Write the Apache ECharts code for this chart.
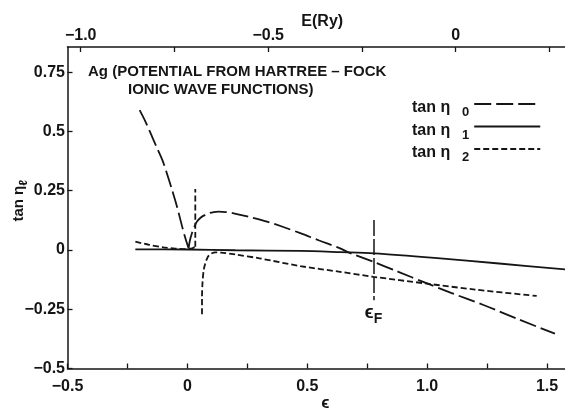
<!DOCTYPE html>
<html>
<head>
<meta charset="utf-8">
<script src="https://cdn.jsdelivr.net/npm/echarts@6/dist/echarts.min.js"></script>
<style>
  html, body { margin: 0; padding: 0; background: #fff; }
  #chart { width: 565px; height: 409px; }
</style>
</head>
<body>
<div id="chart"></div>
<script>
// Tangents of the Ag phase shifts (Hartree-Fock ionic potential) versus energy.

// Axis ticks and labels
const epsTicks = [-0.5, -0.25, 0, 0.25, 0.5, 0.75, 1, 1.25, 1.5];
const epsLabels = [-0.5, 0, 0.5, 1, 1.5];
const ryTicks = [-1, -0.75, -0.5, -0.25, 0, 0.25];
const ryLabels = [-1, -0.5, 0];
const tanTicks = [-0.5, -0.25, 0, 0.25, 0.5, 0.75];

// Axis extents: epsilon (bottom), E in Ry (top), tan eta (left)
const epsRange = [-0.5, 1.575];
const ryRange = [-1.0352, 0.2915];
const tanRange = [-0.5, 0.8565];

// tan eta_0: falling branch down to the cusp, then the rising/decaying branch
const tanEta0Left = [
  [-0.199, 0.590], [-0.175, 0.542], [-0.154, 0.494], [-0.13, 0.438], [-0.105, 0.381],
  [-0.085, 0.322], [-0.064, 0.254], [-0.045, 0.189], [-0.029, 0.127], [-0.012, 0.062],
  [0.005, 0.007]
];
const tanEta0Right = [
  [0.005, 0.007], [0.011, 0.042], [0.019, 0.071], [0.03, 0.100], [0.040, 0.120],
  [0.055, 0.136], [0.068, 0.145], [0.09, 0.155], [0.11, 0.160], [0.13, 0.162],
  [0.16, 0.160], [0.193, 0.155], [0.25, 0.142], [0.332, 0.120], [0.40, 0.097],
  [0.471, 0.071], [0.55, 0.040], [0.637, 0.007], [0.672, -0.010], [0.776, -0.050],
  [0.88, -0.092], [0.992, -0.138], [1.1, -0.181], [1.235, -0.232], [1.38, -0.292],
  [1.533, -0.353]
];

// tan eta_1: nearly flat, slowly turning negative
const tanEta1 = [
  [-0.217, 0.003], [0, 0.002], [0.2, -0.001], [0.47, -0.004], [0.637, -0.009],
  [0.78, -0.014], [1.03, -0.033], [1.3, -0.057], [1.575, -0.082]
];

// tan eta_2: below the d resonance, the resonance itself, and above it
const tanEta2Below = [
  [-0.217, 0.035], [-0.16, 0.022], [-0.099, 0.011], [-0.05, 0.006], [-0.008, 0.004],
  [0.02, 0.007], [0.033, 0.014]
];
const tanEta2Pole = [[0.033, 0.014], [0.033, 0.257]];
const tanEta2Above = [
  [0.061, -0.271], [0.061, -0.2], [0.063, -0.14], [0.068, -0.085], [0.075, -0.055],
  [0.082, -0.036], [0.089, -0.024], [0.1, -0.015], [0.117, -0.010], [0.14, -0.011],
  [0.2, -0.019], [0.3, -0.035], [0.471, -0.068], [0.637, -0.092], [0.776, -0.113],
  [0.992, -0.141], [1.2, -0.167], [1.457, -0.194]
];

// Fermi level marker
const fermiEps = 0.776;
const fermiSpan = [0.127, -0.212];

const GAP = ['-', '-'];
const FONT = "'Liberation Sans', Arial, 'DejaVu Sans', sans-serif";
const INK = '#151515';

function tickText(v) {
  if (v === 0) return '0';
  let s = Number.isInteger(v) ? v.toFixed(1) : String(v);
  return s.replace('-', '\u2212');
}

const labelStyle = { fontFamily: FONT, fontWeight: 'bold', fontSize: 16, color: INK };

const chart = echarts.init(document.getElementById('chart'), null, { renderer: 'canvas' });

chart.setOption({
  animation: false,
  backgroundColor: '#fff',
  grid: { left: 67.5, right: 0, top: 47, bottom: 40.5, outerBoundsMode: 'none' },
  legend: {
    orient: 'vertical',
    left: 412,
    top: 96,
    padding: 0,
    align: 'right',
    itemWidth: 66,
    itemHeight: 12,
    itemGap: -0.5,
    selectedMode: false,
    data: ['tan η0', 'tan η1', 'tan η2'],
    itemStyle: { color: 'rgba(0,0,0,0)', borderWidth: 0, opacity: 0 },
    formatter: name => '{t|tan η}{s|' + name.slice(-1) + '}',
    textStyle: {
      fontFamily: FONT, fontWeight: 'bold', color: INK,
      rich: {
        t: { fontFamily: FONT, fontWeight: 'bold', fontSize: 16, lineHeight: 16, padding: [4, 0, 0, 0], verticalAlign: 'top' },
        s: { fontFamily: FONT, fontWeight: 'bold', fontSize: 13, lineHeight: 12, padding: [10, 0, 0, 1], verticalAlign: 'top', width: 18 }
      }
    }
  },
  xAxis: [
    {
      type: 'value', position: 'bottom',
      min: epsRange[0], max: epsRange[1],
      name: 'ϵ', nameLocation: 'middle', nameGap: 26, nameMoveOverlap: false,
      nameTextStyle: { fontFamily: FONT, fontWeight: 'bold', fontSize: 17, color: INK, padding: [0, 0, 0, 18] },
      axisLine: { show: true, onZero: false, lineStyle: { color: INK, width: 1.5 } },
      axisTick: { show: true, inside: true, length: 5, customValues: epsTicks, lineStyle: { color: INK, width: 1.3 } },
      axisLabel: Object.assign({ margin: 10, customValues: epsLabels, formatter: tickText }, labelStyle),
      splitLine: { show: false }
    },
    {
      type: 'value', position: 'top',
      min: ryRange[0], max: ryRange[1],
      name: 'E(Ry)', nameLocation: 'middle', nameGap: 17, nameMoveOverlap: false,
      nameTextStyle: { fontFamily: FONT, fontWeight: 'bold', fontSize: 16, color: INK, padding: [0, 0, 0, 12] },
      axisLine: { show: true, onZero: false, lineStyle: { color: INK, width: 1.5 } },
      axisTick: { show: true, inside: true, length: 5, customValues: ryTicks, lineStyle: { color: INK, width: 1.3 } },
      axisLabel: Object.assign({ margin: 3, customValues: ryLabels, formatter: tickText }, labelStyle),
      splitLine: { show: false }
    }
  ],
  yAxis: {
    type: 'value',
    min: tanRange[0], max: tanRange[1],
    name: '{t|tan η}{s|ℓ}', nameLocation: 'middle', nameRotate: 90, nameGap: 40.5, nameMoveOverlap: false,
    nameTextStyle: {
      color: INK, padding: [0, 0, 0, 14],
      rich: {
        t: { fontFamily: FONT, fontWeight: 'bold', fontSize: 15, lineHeight: 16, verticalAlign: 'top', color: INK },
        s: { fontFamily: FONT, fontWeight: 'bold', fontSize: 12, lineHeight: 12, padding: [7, 0, 0, 0], verticalAlign: 'top', color: INK }
      }
    },
    axisLine: { show: true, onZero: false, lineStyle: { color: INK, width: 1.5 } },
    axisTick: { show: true, inside: true, length: 5, customValues: tanTicks, lineStyle: { color: INK, width: 1.3 } },
    axisLabel: Object.assign({ margin: 2.5, customValues: tanTicks, formatter: tickText }, labelStyle),
    splitLine: { show: false }
  },
  graphic: [
    {
      type: 'text', left: 88, top: 64,
      style: { text: 'Ag (POTENTIAL FROM HARTREE – FOCK', fontFamily: FONT, fontWeight: 'bold', fontSize: 15, fill: INK }
    },
    {
      type: 'text', left: 128, top: 82,
      style: { text: 'IONIC WAVE FUNCTIONS)', fontFamily: FONT, fontWeight: 'bold', fontSize: 15, fill: INK }
    }
  ],
  series: [
    {
      name: 'tan η0', type: 'line', symbol: 'none', smooth: 0.3, connectNulls: false,
      data: tanEta0Left.concat([GAP], tanEta0Right),
      lineStyle: { color: INK, width: 1.8, type: [17, 5] },
      itemStyle: { color: INK }
    },
    {
      name: 'tan η1', type: 'line', symbol: 'none', smooth: 0.3,
      data: tanEta1,
      lineStyle: { color: INK, width: 1.8, type: 'solid' },
      itemStyle: { color: INK },
      markLine: {
        silent: true, symbol: ['none', 'none'],
        lineStyle: { color: INK, width: 1.5, type: [16, 3] },
        label: {
          show: true, position: 'end', distance: 3, color: INK,
          formatter: '{e|ϵ}{f|F}',
          rich: {
            e: { fontFamily: FONT, fontWeight: 'bold', fontSize: 19, lineHeight: 18, verticalAlign: 'top', color: INK },
            f: { fontFamily: FONT, fontWeight: 'bold', fontSize: 14, lineHeight: 14, padding: [9, 0, 0, 0], verticalAlign: 'top', color: INK }
          }
        },
        data: [[{ coord: [fermiEps, fermiSpan[0]] }, { coord: [fermiEps, fermiSpan[1]] }]]
      }
    },
    {
      name: 'tan η2', type: 'line', symbol: 'none', smooth: 0.3, connectNulls: false,
      data: tanEta2Below.concat([GAP], tanEta2Pole, [GAP], tanEta2Above),
      lineStyle: { color: INK, width: 1.8, type: [6, 3] },
      itemStyle: { color: INK }
    }
  ]
});
</script>
</body>
</html>
